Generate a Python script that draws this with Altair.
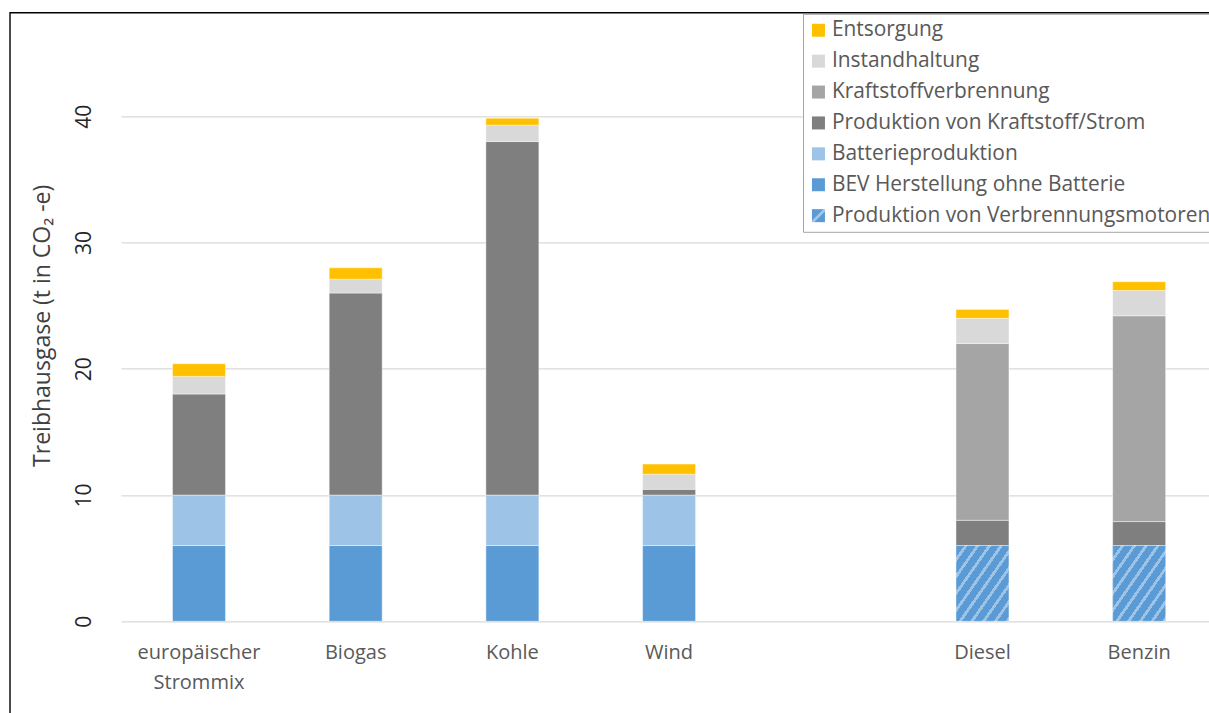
import altair as alt
import pandas as pd

# ---------------- data ----------------
categories = ["europäischer Strommix", "Biogas", "Kohle", "Wind", "Diesel", "Benzin"]
x_domain = ["europäischer Strommix", "Biogas", "Kohle", "Wind", " ", "Diesel", "Benzin"]

series_names = [
    "Entsorgung",
    "Instandhaltung",
    "Kraftstoffverbrennung",
    "Produktion von Kraftstoff/Strom",
    "Batterieproduktion",
    "BEV Herstellung ohne Batterie",
    "Produktion von Verbrennungsmotoren",
]

entsorgung = [1.0, 0.9, 0.55, 0.8, 0.7, 0.7]
instandhaltung = [1.4, 1.1, 1.3, 1.2, 2.0, 2.0]
kraftstoffverbrennung = [0, 0, 0, 0, 14.0, 16.3]
produktion_strom = [8.0, 16.0, 28.0, 0.45, 2.0, 1.9]
batterie = [4.0, 4.0, 4.0, 4.0, 0, 0]
bev = [6.0, 6.0, 6.0, 6.0, 0, 0]
motor = [0, 0, 0, 0, 6.0, 6.0]

y_ticks = [0, 10, 20, 30, 40]

# stacking order bottom -> top
stack_series = [
    ("Produktion von Verbrennungsmotoren", motor),
    ("BEV Herstellung ohne Batterie", bev),
    ("Batterieproduktion", batterie),
    ("Produktion von Kraftstoff/Strom", produktion_strom),
    ("Kraftstoffverbrennung", kraftstoffverbrennung),
    ("Instandhaltung", instandhaltung),
    ("Entsorgung", entsorgung),
]

rows = []
for i, cat in enumerate(categories):
    base = 0.0
    for name, vals in stack_series:
        v = vals[i]
        if v > 0:
            rows.append({"Kategorie": cat, "Serie": name, "y0": base, "y1": base + v, "Wert": v})
            base += v
df = pd.DataFrame(rows)

# ---------------- styles ----------------
BLUE = "#5B9BD5"
LIGHT = "#9DC3E6"
colors = ["#FFC000", "#D9D9D9", "#A5A5A5", "#7F7F7F", LIGHT, BLUE]

legend_grad_expr = (
    "{gradient: 'linear', x1: 0, y1: 0, x2: 1, y2: 1, stops: ["
    f"{{offset: 0, color: '{BLUE}'}}, {{offset: 0.44, color: '{BLUE}'}}, "
    f"{{offset: 0.44, color: '{LIGHT}'}}, {{offset: 0.6, color: '{LIGHT}'}}, "
    f"{{offset: 0.6, color: '{BLUE}'}}, {{offset: 1, color: '{BLUE}'}}]}}"
)

N_STRIPES = 9
stops = []
for k in range(N_STRIPES):
    a = k / N_STRIPES
    b = (k + 0.7) / N_STRIPES
    c = (k + 1) / N_STRIPES
    stops += [
        alt.GradientStop(offset=a, color=BLUE),
        alt.GradientStop(offset=b, color=BLUE),
        alt.GradientStop(offset=b, color=LIGHT),
        alt.GradientStop(offset=c, color=LIGHT),
    ]
hatch = alt.LinearGradient(gradient="linear", x1=0, y1=0, x2=1, y2=1, stops=stops)

x_scale = alt.Scale(domain=x_domain, paddingInner=0.662, paddingOuter=0.3027, align=0.543)
y_scale = alt.Scale(domain=[0, 48], nice=False, zero=True)

x_enc = alt.X(
    "Kategorie:N",
    scale=x_scale,
    axis=alt.Axis(
        title=None,
        labelAngle=0,
        labelExpr="split(datum.label, ' ')",
        labelFontSize=20,
        labelColor="#595959",
        labelFont="Open Sans",
        ticks=False,
        domain=False,
        grid=False,
        labelPadding=21,
        labelLineHeight=30,
    ),
)

y_enc = alt.Y(
    "y0:Q",
    scale=y_scale,
    axis=alt.Axis(
        values=y_ticks,
        title="Treibhausgase (t in CO₂ -e)",
        grid=True,
        gridColor="#D9D9D9",
        gridWidth=1.3,
        domain=False,
        ticks=False,
        tickSize=0,
        labelAngle=270,
        labelAlign="center",
        labelBaseline="bottom",
        labelPadding=27,
        labelFontSize=21,
        labelFont="Open Sans",
        labelColor="#262626",
        titleFont="Open Sans",
        titleFontSize=23,
        titleFontWeight="normal",
        titleColor="#404040",
        titleAngle=270,
        titleX=-67,
        titleY=310,
        titleAlign="center",
        titleBaseline="bottom",
    ),
)

bars = alt.Chart(df).mark_bar(stroke="white", strokeWidth=0.6, strokeOpacity=0.7).encode(
    x=x_enc,
    y=y_enc,
    y2="y1:Q",
    color=alt.Color(
        "Serie:N",
        scale=alt.Scale(domain=series_names, range=colors + [{"expr": legend_grad_expr}]),
        legend=alt.Legend(
            title=None,
            orient="none",
            legendX=682,
            legendY=-1.5,
            symbolType="square",
            symbolSize=169,
            symbolStrokeWidth=0,
            labelFont="Open Sans",
            labelFontSize=20.9,
            labelColor="#595959",
            labelLimit=600,
            rowPadding=8.9,
            padding=6,
            symbolOffset=-1,
            labelOffset=3,
            strokeColor="#A6A6A6",
            fillColor="white",
        ),
    ),
)

hatch_layer = (
    alt.Chart(df)
    .transform_filter(alt.datum.Serie == "Produktion von Verbrennungsmotoren")
    .mark_bar(color=hatch, stroke="white", strokeWidth=0.6, strokeOpacity=0.7)
    .encode(x=alt.X("Kategorie:N", scale=x_scale), y=alt.Y("y0:Q", scale=y_scale), y2="y1:Q")
)

frame = (
    alt.Chart(alt.Data(values=[{"f": 1}]))
    .mark_rect(filled=False, stroke="black", strokeWidth=1.4)
    .encode(x=alt.value(-111), x2=alt.value(1500), y=alt.value(-2.5), y2=alt.value(900))
)

chart = (
    alt.layer(frame, bars, hatch_layer)
    .properties(
        width=1088,
        height=606,
        padding={"left": 121, "top": 15.3, "right": 0, "bottom": 91.7},
        autosize=alt.AutoSizeParams(type="none"),
    )
    .configure(font="Open Sans")
    .configure_view(strokeWidth=0)
)

chart.save("out.html", embed_options={"renderer": "svg", "actions": False})
